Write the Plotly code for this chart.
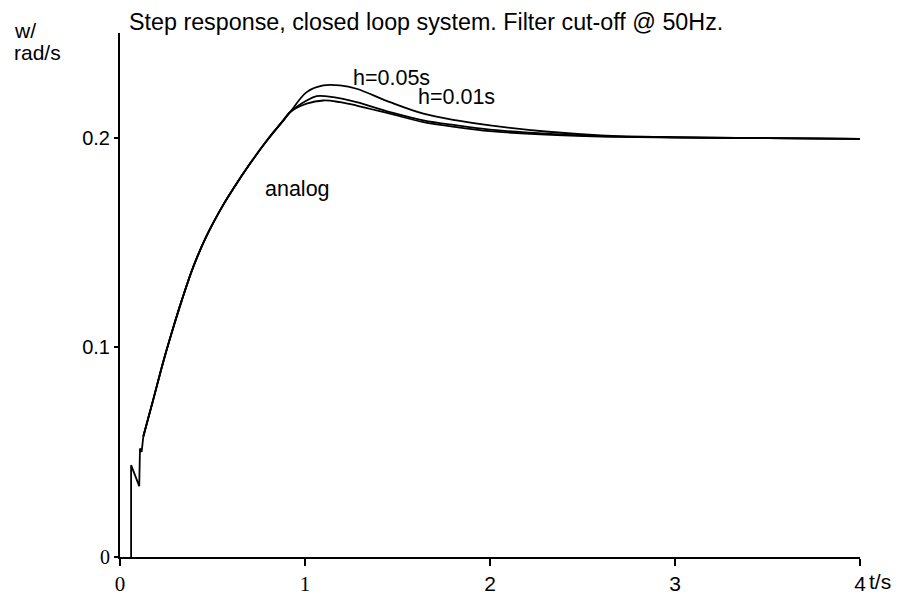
import plotly.graph_objects as go

# ---- data ----
# initial sampling transient of the h=0.05s system
t_start = [0.06, 0.06, 0.104, 0.108, 0.117, 0.126]
y_start = [0.0, 0.0438, 0.0338, 0.0518, 0.0502, 0.0575]

# common rising part (all three curves coincide)
t_rise = [0.126, 0.18, 0.234, 0.288, 0.333, 0.396, 0.468, 0.558, 0.612, 0.703, 0.793, 0.883]
y_rise = [0.0575, 0.0752, 0.0932, 0.1095, 0.1222, 0.1384, 0.1532, 0.1680, 0.1757, 0.1877, 0.1986, 0.2083]

# branches after the curves separate
t_h05 = [0.92, 1.009, 1.099, 1.189, 1.279, 1.459, 1.64, 1.82, 2.0, 2.3, 2.6, 3.0, 3.5, 4.0]
y_h05 = [0.2123, 0.2218, 0.2250, 0.2250, 0.2234, 0.2170, 0.2115, 0.2083, 0.2059, 0.2030, 0.2012, 0.2003, 0.1998, 0.1995]

t_h01 = [0.92, 1.009, 1.063, 1.153, 1.279, 1.459, 1.64, 1.82, 2.0, 2.3, 2.6, 3.0, 3.5, 4.0]
y_h01 = [0.2123, 0.2178, 0.2199, 0.2194, 0.2170, 0.2123, 0.2083, 0.2059, 0.2039, 0.2020, 0.2008, 0.2002, 0.1998, 0.1995]

t_analog = [0.92, 1.009, 1.099, 1.189, 1.279, 1.459, 1.64, 1.82, 2.0, 2.3, 2.6, 3.0, 3.5, 4.0]
y_analog = [0.2123, 0.2163, 0.2178, 0.2170, 0.2154, 0.2115, 0.2075, 0.2051, 0.2032, 0.2015, 0.2006, 0.2001, 0.1998, 0.1995]

x_ticks = [0, 1, 2, 3, 4]
x_ticktext = ["<span style='font-family:Liberation Serif'>0</span>",
              "<span style='font-family:Liberation Serif'>1</span>", "2", "3", "4"]
y_ticks = [0, 0.1, 0.2]
y_ticktext = ["<span style='font-family:Liberation Serif'>0</span>", "0.1", "0.2"]

FONT = "Liberation Sans, Arial, sans-serif"
LINE = dict(color="black", width=1.8)

fig = go.Figure()
fig.add_trace(go.Scatter(x=t_start, y=y_start, mode="lines", line=LINE, name="h=0.05s start"))
for tb, yb, name in [(t_analog, y_analog, "analog"), (t_h01, y_h01, "h=0.01s"), (t_h05, y_h05, "h=0.05s")]:
    fig.add_trace(go.Scatter(x=t_rise + tb, y=y_rise + yb, mode="lines",
                             line=dict(color="black", width=1.8, shape="spline", smoothing=1.0),
                             name=name))

fig.update_layout(
    width=898, height=594,
    margin=dict(l=120, r=38, t=33, b=37),
    plot_bgcolor="white", paper_bgcolor="white",
    showlegend=False,
    font=dict(family=FONT, size=21, color="black"),
)
fig.update_xaxes(range=[0, 4], tickvals=x_ticks, ticktext=x_ticktext,
                 showline=True, linecolor="black", linewidth=2,
                 ticks="outside", ticklen=7, tickwidth=1.5, tickcolor="black",
                 automargin=False,
                 showgrid=False, zeroline=False, tickfont=dict(size=21))
fig.update_yaxes(range=[0, 0.25], tickvals=y_ticks, ticktext=y_ticktext,
                 showline=True, linecolor="black", linewidth=2,
                 ticks="outside", ticklen=4, tickwidth=1.5, tickcolor="black",
                 automargin=False,
                 showgrid=False, zeroline=False, tickfont=dict(size=20))

ann = [
    dict(text="Step response, closed loop system. Filter cut-off @ 50Hz.", x=0.0095, y=1.021,
         xref="paper", yref="paper", xanchor="left", yanchor="middle", font=dict(size=23.3)),
    dict(text="w/", x=-0.146, y=1.005, xref="paper", yref="paper",
         xanchor="left", yanchor="middle", font=dict(size=21)),
    dict(text="rad/s", x=-0.146, y=0.962, xref="paper", yref="paper",
         xanchor="left", yanchor="middle", font=dict(size=21)),
    dict(text="t/s", x=1.0095, y=-0.0477, xref="paper", yref="paper",
         xanchor="left", yanchor="middle", font=dict(size=21)),
    dict(text="h=0.05s", x=1.470, y=0.2286, xanchor="center", yanchor="middle", font=dict(size=21.5)),
    dict(text="h=0.01s", x=1.819, y=0.2195, xanchor="center", yanchor="middle", font=dict(size=21.5)),
    dict(text="analog", x=0.957, y=0.1755, xanchor="center", yanchor="middle", font=dict(size=21.5)),
]
for a in ann:
    a.setdefault("showarrow", False)
    fig.add_annotation(**a)

fig.write_html("out.html")
